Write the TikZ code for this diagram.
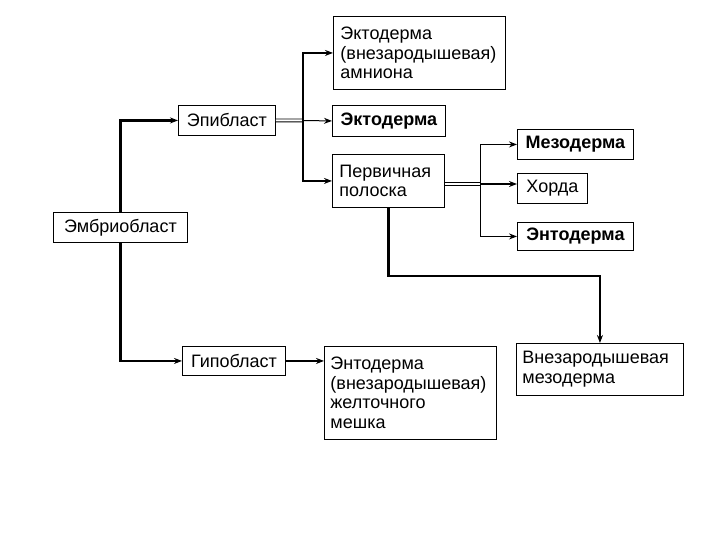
\documentclass[tikz,border=0pt]{standalone}
\usepackage{fontspec}
\setmainfont{Liberation Sans}
\usetikzlibrary{arrows.meta}
\begin{document}
\begin{tikzpicture}[x=1pt,y=-1pt,
  box/.style={draw,line width=0.9pt,inner sep=0pt,anchor=north west,
    font=\fontsize{18}{19.7}\selectfont},
  mbox/.style={box,align=left},
  thk/.style={line width=2.2pt},
  thn/.style={line width=1pt},
  arr/.style={-{Stealth[length=8pt,width=6pt]}},
  dbl/.style={double,double distance=2pt,line width=0.9pt}]
\useasboundingbox (0,0) rectangle (720,540);
\node[mbox,minimum width=172,minimum height=73,text width=158] (amn) at (333,16)
  {Эктодерма\\(внезародышевая)\\амниона};
\node[box,minimum width=97,minimum height=30] (epi) at (178,105) {Эпибласт};
\node[box,minimum width=113,minimum height=31] (ekt) at (332,105) {\textbf{Эктодерма}};
\node[mbox,minimum width=112,minimum height=53,text width=98] (ps) at (332,154)
  {Первичная\\полоска};
\node[box,minimum width=134,minimum height=30] (emb) at (53,212) {Эмбриобласт};
\node[box,minimum width=116,minimum height=30] (mes) at (517,129) {\textbf{Мезодерма}};
\node[box,minimum width=70,minimum height=30] (hor) at (517,173) {Хорда};
\node[box,minimum width=116,minimum height=28] (ent) at (517,222) {\textbf{Энтодерма}};
\node[box,minimum width=103,minimum height=29] (hyp) at (182,346) {Гипобласт};
\node[mbox,minimum width=172,minimum height=93,text width=160] (yolk) at (324,346)
  {Энтодерма\\(внезародышевая)\\желточного\\мешка};
\node[mbox,minimum width=167,minimum height=52,text width=155] (exm) at (516,343)
  {Внезародышевая\\мезодерма};
% connectors
\draw[thk,arr] (emb.north) |- (epi.west);
\draw[thk,arr] (emb.south) |- (hyp.west);
\draw[thk,arr] (hyp.east) -- (hyp.east -| yolk.west);
\coordinate (j1) at (303,120.5);
\draw[dbl] (epi.east) -- (j1);
\draw[thn,arr] (j1) -- (ekt.west);
\draw[thk,arr] (j1) |- (amn.west);
\draw[thk,arr] (j1) |- (ps.west);
\coordinate (j2) at (480,184);
\draw[dbl,line width=1.3pt] (ps.east |- j2) -- (j2);
\draw[thk,arr] (j2) -- (j2 -| hor.west);
\draw[thn,arr] (j2) |- (mes.west);
\draw[thn,arr] (j2) |- (ent.west);
\draw[thk,arr] (ps.south) -- ++(0,68) -| (exm.north);
\end{tikzpicture}
\end{document}
